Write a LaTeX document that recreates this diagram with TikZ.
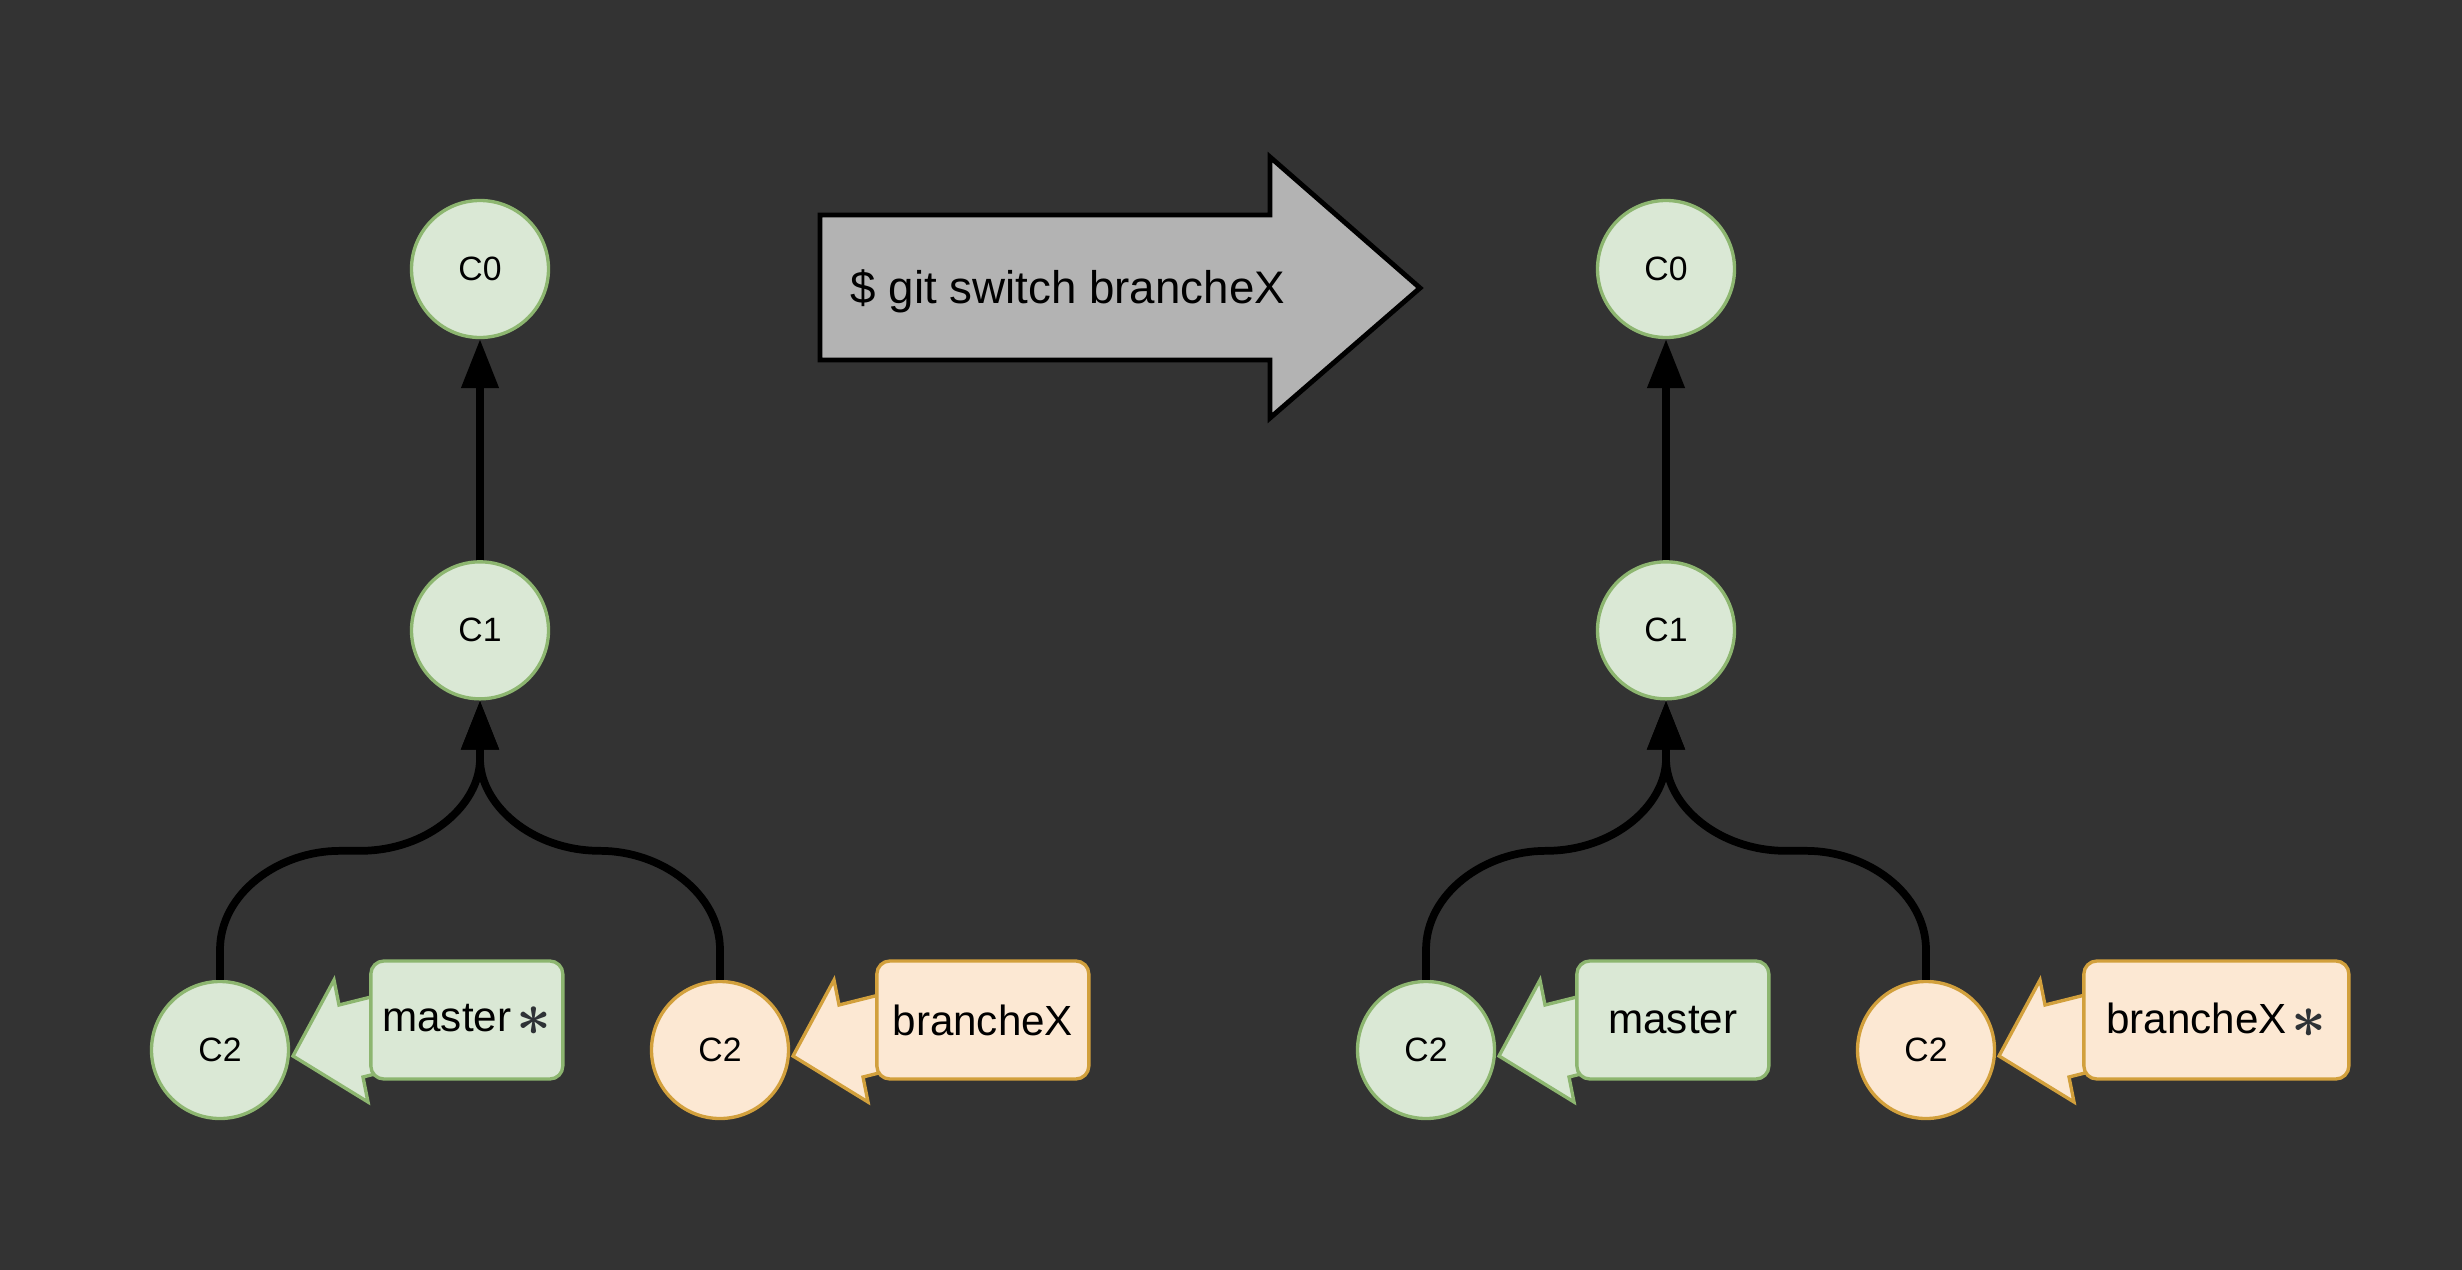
\documentclass[tikz,border=0pt]{standalone}
\usepackage{amsmath}
\usepackage{fontspec}
\setmainfont{Liberation Sans}
\usepackage{xcolor}
\usepackage{tikz}
\usetikzlibrary{arrows.meta,positioning,calc}

\definecolor{bgdark}{HTML}{333333}
\definecolor{grnfill}{HTML}{DAE8D5}
\definecolor{grnline}{HTML}{8DB670}
\definecolor{orgfill}{HTML}{FCE8D3}
\definecolor{orgline}{HTML}{D2A03C}
\definecolor{cmdfill}{HTML}{B3B3B3}
\definecolor{stargray}{HTML}{2E3236}
\newcommand{\headmark}{\hspace{0.12em}\raisebox{-0.04cm}{\fontsize{19}{19}\selectfont\color{stargray}$\boldsymbol{\ast}$}}

\begin{document}
\begin{tikzpicture}[line join=miter,
  commit/.style={circle, draw=grnline, fill=grnfill, line width=0.95pt, minimum size=1.37cm, inner sep=0pt, font=\fontsize{9.6}{11}\selectfont},
  ocommit/.style={commit, draw=orgline, fill=orgfill},
  ref/.style={draw=grnline, fill=grnfill, rounded corners=0.13cm, line width=0.95pt, minimum height=1.18cm, inner sep=2pt, font=\fontsize{12}{14}\selectfont},
  oref/.style={ref, draw=orgline, fill=orgfill},
  grnptr/.style={draw=grnline, fill=grnfill, line width=0.95pt},
  orgptr/.style={draw=orgline, fill=orgfill, line width=0.95pt},
  edge/.style={line width=2.2pt, -{Triangle[length=4.9mm, width=3.6mm]}}]
\fill[bgdark] (0,0) rectangle (24.62,-12.70);
\useasboundingbox (0,0) rectangle (24.62,-12.70);

% before switch
\node[commit] (c0l) at (4.80,-2.69) {C0};
\node[commit, below=2.21cm of c0l] (c1l) {C1};
\node[commit] (c2l) at (2.20,-10.50) {C2};
\node[ocommit] (c2lo) at (7.20,-10.50) {C2};

% after switch
\node[commit] (c0r) at (16.66,-2.69) {C0};
\node[commit, below=2.21cm of c0r] (c1r) {C1};
\node[commit] (c2r) at (14.26,-10.50) {C2};
\node[ocommit] (c2ro) at (19.26,-10.50) {C2};

% branch pointers
\draw[grnptr, shift={(c2l)}] (0.73,-0.06) -- (1.14,0.70) -- (1.19,0.45) -- (1.81,0.605) -- (1.81,-0.175) -- (1.43,-0.27) -- (1.48,-0.52) -- cycle;
\draw[orgptr, shift={(c2lo)}] (0.73,-0.06) -- (1.14,0.70) -- (1.19,0.45) -- (1.81,0.605) -- (1.81,-0.175) -- (1.43,-0.27) -- (1.48,-0.52) -- cycle;
\draw[grnptr, shift={(c2r)}] (0.73,-0.06) -- (1.14,0.70) -- (1.19,0.45) -- (1.81,0.605) -- (1.81,-0.175) -- (1.43,-0.27) -- (1.48,-0.52) -- cycle;
\draw[orgptr, shift={(c2ro)}] (0.73,-0.06) -- (1.14,0.70) -- (1.19,0.45) -- (1.81,0.605) -- (1.81,-0.175) -- (1.43,-0.27) -- (1.48,-0.52) -- cycle;

\node[ref, minimum width=1.92cm, right=0.79cm of c2l, yshift=0.30cm] (mstl) {master\headmark};
\node[oref, minimum width=2.12cm, right=0.85cm of c2lo, yshift=0.30cm] (brxl) {brancheX};
\node[ref, minimum width=1.92cm, right=0.79cm of c2r, yshift=0.30cm] (mstr) {master};
\node[oref, minimum width=2.65cm, right=0.86cm of c2ro, yshift=0.30cm] (brxr) {brancheX\headmark};

% command arrow
\draw[fill=cmdfill, line width=1.4pt] (8.20,-2.15) -- (12.70,-2.15) -- (12.70,-1.57) -- (14.20,-2.88) -- (12.70,-4.18) -- (12.70,-3.60) -- (8.20,-3.60) -- cycle;
\node[anchor=base west, inner sep=0pt, font=\fontsize{13}{15}\selectfont] (cmd) at (8.50,-3.03) {\$ git switch brancheX};

% parents
\draw[edge] (c1l) -- (c0l);
\draw[edge] (c1r) -- (c0r);
\draw[edge] (c2l.north) -- ++(0,0.30) .. controls +(0,0.56) and +(-0.62,0) .. ++(1.20,0.99) -- ++(0.20,0) .. controls +(0.68,0) and +(0,-0.46) .. ++(1.20,0.92) -- (c1l.south);
\draw[edge] (c2lo.north) -- ++(0,0.30) .. controls +(0,0.56) and +(0.62,0) .. ++(-1.20,0.99) .. controls +(-0.68,0) and +(0,-0.46) .. ++(-1.20,0.92) -- (c1l.south);
\draw[edge] (c2r.north) -- ++(0,0.30) .. controls +(0,0.56) and +(-0.62,0) .. ++(1.20,0.99) .. controls +(0.68,0) and +(0,-0.46) .. ++(1.20,0.92) -- (c1r.south);
\draw[edge] (c2ro.north) -- ++(0,0.30) .. controls +(0,0.56) and +(0.62,0) .. ++(-1.20,0.99) -- ++(-0.20,0) .. controls +(-0.68,0) and +(0,-0.46) .. ++(-1.20,0.92) -- (c1r.south);
\end{tikzpicture}
\end{document}
